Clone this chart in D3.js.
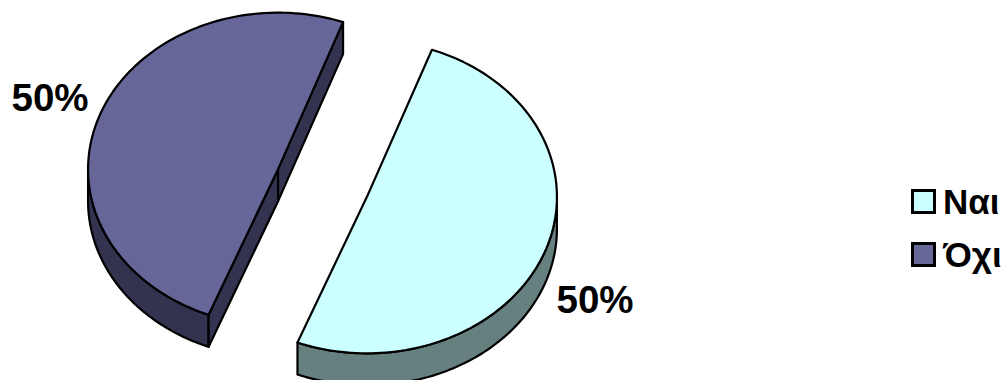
<!DOCTYPE html>
<html><head><meta charset="utf-8">
<script src="https://cdn.jsdelivr.net/npm/d3@7"></script>
<style>html,body{margin:0;padding:0;background:#fff}svg{display:block}text{font-family:"Liberation Sans",Arial,sans-serif;font-weight:700;fill:#000}</style>
</head><body><svg id="c" width="1007" height="380"></svg>
<script>
const categories = ["Ναι", "Όχι"];
const values = [50.4, 49.6];
const topColors = ["#CCFFFF", "#666699"];
const sideColors = ["#668080", "#333350"];

const W = 1007, H = 380;
const svg = d3.select("#c");
const cx = 322.5, cy = 183, rx = 190, ry = 156.5, depth = 32, explode = 0.25;
const startDeg = 20;
const pie = d3.pie().sort(null).startAngle(startDeg * Math.PI / 180).endAngle((startDeg + 360) * Math.PI / 180);
const arcs = pie(values);
const pct = d3.format(".0%");
const total = d3.sum(values);

// Map pie (unit circle) coordinates to the tilted ellipse
const sx = d3.scaleLinear().domain([-1, 1]).range([-rx, rx]);
const sy = d3.scaleLinear().domain([-1, 1]).range([-ry, ry]);
const proj = (c, a, r = 1, dz = 0) => [c[0] + sx(r * Math.sin(a)), c[1] + sy(-r * Math.cos(a)) + dz];
const line = d3.line();
const sample = (a0, a1, c, dz) => d3.range(0, 121).map(i => proj(c, a0 + (a1 - a0) * i / 120, 1, dz));

const ks = "#000";
const sw = 2.2;
arcs.forEach((d, i) => {
  const mid = (d.startAngle + d.endAngle) / 2;
  const c = [cx + sx(explode * Math.sin(mid)), cy + sy(-explode * Math.cos(mid))];
  const g = svg.append("g");
  const a0 = d.startAngle, a1 = d.endAngle;
  const lo = Math.max(a0, Math.PI / 2), hi = Math.min(a1, 3 * Math.PI / 2);
  if (hi > lo) {
    const top = sample(lo, hi, c, 0), bot = sample(lo, hi, c, depth).reverse();
    g.append("path").attr("d", line(top.concat(bot)) + "Z").attr("fill", sideColors[i]).attr("stroke", ks).attr("stroke-width", sw).attr("stroke-linejoin", "round");
  }
  if (Math.sin(mid) < 0) {
    [a0, a1].forEach(a => {
      const p = proj(c, a);
      const q = [c[0], c[1]];
      const quad = [p, q, [q[0], q[1] + depth], [p[0], p[1] + depth]];
      g.append("path").attr("d", line(quad) + "Z").attr("fill", sideColors[i]).attr("stroke", ks).attr("stroke-width", sw).attr("stroke-linejoin", "round");
    });
  }
  const face = sample(a0, a1, c, 0).concat([c]);
  g.append("path").attr("d", line(face) + "Z").attr("fill", topColors[i]).attr("stroke", ks).attr("stroke-width", sw).attr("stroke-linejoin", "round");
});

// data labels
const labelPos = [[595, 313], [50, 111]];
arcs.forEach((d, i) => {
  svg.append("text").attr("x", labelPos[i][0]).attr("y", labelPos[i][1]).attr("text-anchor", "middle")
    .attr("font-size", 38.5).text(pct(d.value / total));
});

// legend
const legendY = d3.scalePoint().domain(categories).range([201.5, 254.5]);
categories.forEach((n, i) => {
  const y = legendY(n);
  svg.append("rect").attr("x", 912.5).attr("y", y - 11).attr("width", 22).attr("height", 22)
    .attr("fill", topColors[i]).attr("stroke", ks).attr("stroke-width", 3);
  svg.append("text").attr("x", 943).attr("y", y + 12.5).attr("font-size", 35).text(n);
});
</script></body></html>
